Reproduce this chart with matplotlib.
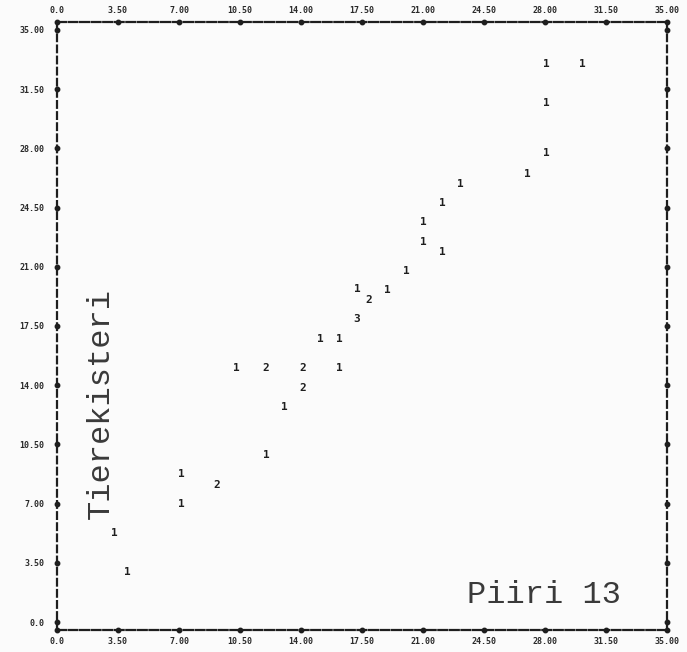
import numpy as np
import matplotlib
matplotlib.use("Agg")
import matplotlib.pyplot as plt

# printer-plot points: position and the count digit printed at that cell
x_vals = [3.27, 4.02, 7.11, 7.11, 9.18, 10.27, 11.99, 14.11, 16.18, 14.11,
          13.02, 11.99, 15.09, 16.18, 17.21, 17.90, 18.93, 17.21, 20.02, 21.00,
          21.00, 22.09, 22.09, 23.12, 26.97, 28.05, 28.05, 28.05, 30.12]
y_vals = [5.26, 2.96, 8.75, 6.98, 8.10, 15.02, 15.02, 15.02, 15.02, 13.84,
          12.71, 9.88, 16.74, 16.74, 19.69, 19.04, 19.63, 17.92, 20.76, 22.47,
          23.65, 21.88, 24.78, 25.90, 26.49, 27.73, 30.69, 33.00, 33.00]
counts = ["1", "1", "1", "1", "2", "1", "2", "2", "1", "2",
          "1", "1", "1", "1", "1", "2", "1", "3", "1", "1",
          "1", "1", "1", "1", "1", "1", "1", "1", "1"]

tick_vals = [0.0, 3.5, 7.0, 10.5, 14.0, 17.5, 21.0, 24.5, 28.0, 31.5, 35.0]
tick_labels = ["0.0", "3.50", "7.00", "10.50", "14.00", "17.50",
               "21.00", "24.50", "28.00", "31.50", "35.00"]

ink = "#1e1e1e"
mono = "Liberation Mono"

fig = plt.figure(figsize=(6.87, 6.52), dpi=100, facecolor="#fbfbfb")
ax = fig.add_axes([0.083, 0.0337, 0.888, 0.9326])
ax.set_facecolor("#fbfbfb")
ax.set_xlim(0, 35)
ax.set_ylim(-0.47, 35.47)

# frame drawn like line-printer characters
for side in ["left", "right"]:
    ax.spines[side].set_linestyle((0, (3, 2)))
    ax.spines[side].set_linewidth(1.6)
    ax.spines[side].set_color(ink)
for side in ["top", "bottom"]:
    ax.spines[side].set_linestyle((0, (4, 1.2)))
    ax.spines[side].set_linewidth(1.6)
    ax.spines[side].set_color(ink)

# tick markers on the frame
ax.plot(tick_vals, [-0.47] * len(tick_vals), "o", ms=3.2, color=ink, clip_on=False)
ax.plot(tick_vals, [35.47] * len(tick_vals), "o", ms=3.2, color=ink, clip_on=False)
ax.plot([0] * len(tick_vals), tick_vals, "o", ms=3.2, color=ink, clip_on=False)
ax.plot([35] * len(tick_vals), tick_vals, "o", ms=3.2, color=ink, clip_on=False)

ax.set_xticks(tick_vals)
ax.set_xticklabels(tick_labels)
ax.set_yticks(tick_vals)
ax.set_yticklabels(tick_labels)
ax.tick_params(length=0, labeltop=True, labelsize=6, colors="#2a2a2a", pad=5)
ax.tick_params(axis="y", pad=9)
for lab in ax.get_xticklabels() + ax.get_yticklabels():
    lab.set_fontfamily("DejaVu Sans Mono")
    lab.set_fontweight("bold")

for xv, yv, c in zip(x_vals, y_vals, counts):
    ax.text(xv, yv, c, ha="center", va="center", fontsize=8,
            fontweight="bold", family="DejaVu Sans Mono", color=ink)

ax.text(2.5, 12.9, "Tierekisteri", rotation=90, ha="center", va="center",
        fontsize=23, family=mono, color="#3a3a3a")
ax.text(23.5, 1.6, "Piiri 13", ha="left", va="center",
        fontsize=23, family=mono, color="#3a3a3a")

fig.savefig("out.png", dpi=100, facecolor=fig.get_facecolor())
